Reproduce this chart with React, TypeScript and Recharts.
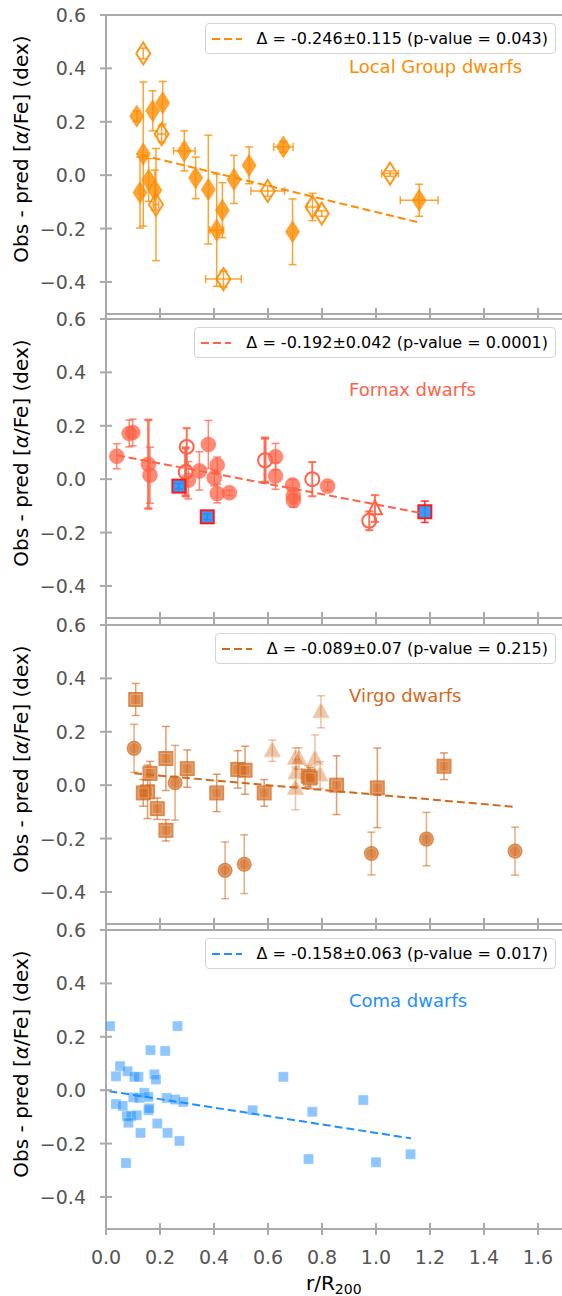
import { ScatterChart, Scatter, XAxis, YAxis, ErrorBar, ReferenceLine } from 'recharts';
import type { ReactNode } from 'react';

const FONT = '"DejaVu Sans", sans-serif';
const AXIS = '#aaaaaa';
const TICK_TEXT = '#555555';

const LG_COLOR = '#ff8c00';
const FX_COLOR = '#ff6347';
const VG_COLOR = '#d2691e';
const CM_COLOR = '#1e90ff';

const xTicks = [0, 0.2, 0.4, 0.6, 0.8, 1.0, 1.2, 1.4, 1.6];
const yTicks = [-0.4, -0.2, 0, 0.2, 0.4, 0.6];
const X_MAX = 1.689;
const Y_MIN = -0.52;
const Y_MAX = 0.6;

// Local Group: filled / open thin diamonds
const lgFilled = [
  { x: 0.114, y: 0.221, ex: 0, ey: 0.02 },
  { x: 0.173, y: 0.241, ex: 0, ey: 0.075 },
  { x: 0.21, y: 0.271, ex: 0, ey: 0.08 },
  { x: 0.138, y: 0.079, ex: 0, ey: 0.27 },
  { x: 0.126, y: -0.065, ex: 0, ey: 0.133 },
  { x: 0.158, y: -0.018, ex: 0, ey: 0.08 },
  { x: 0.181, y: -0.056, ex: 0, ey: 0.075 },
  { x: 0.29, y: 0.091, ex: 0.04, ey: 0.075 },
  { x: 0.332, y: -0.01, ex: 0, ey: 0.078 },
  { x: 0.379, y: -0.054, ex: 0, ey: 0.204 },
  { x: 0.431, y: -0.131, ex: 0, ey: 0.103 },
  { x: 0.41, y: -0.206, ex: 0.026, ey: 0.21 },
  { x: 0.474, y: -0.016, ex: 0, ey: 0.09 },
  { x: 0.53, y: 0.037, ex: 0, ey: 0.069 },
  { x: 0.657, y: 0.106, ex: 0.036, ey: 0.02 },
  { x: 0.691, y: -0.212, ex: 0, ey: 0.123 },
  { x: 1.16, y: -0.094, ex: 0.07, ey: 0.06 },
];
const lgOpen = [
  { x: 0.138, y: 0.456, ex: 0, ey: 0.02 },
  { x: 0.206, y: 0.154, ex: 0.015, ey: 0.03 },
  { x: 0.185, y: -0.11, ex: 0.01, ey: 0.21 },
  { x: 0.435, y: -0.389, ex: 0.066, ey: 0.03 },
  { x: 0.599, y: -0.059, ex: 0.062, ey: 0.02 },
  { x: 0.765, y: -0.119, ex: 0.02, ey: 0.051 },
  { x: 0.799, y: -0.144, ex: 0, ey: 0.01 },
  { x: 1.052, y: 0.006, ex: 0.031, ey: 0.01 },
];

// Fornax
const fxFilled = [
  { x: 0.04, y: 0.086, ey: 0.047 },
  { x: 0.086, y: 0.171, ey: 0.05 },
  { x: 0.099, y: 0.175, ey: 0.05 },
  { x: 0.163, y: 0.015, ey: 0.105 },
  { x: 0.305, y: -0.004, ey: 0.07 },
  { x: 0.346, y: 0.031, ey: 0.072 },
  { x: 0.379, y: 0.13, ey: 0.09 },
  { x: 0.412, y: 0.053, ey: 0.03 },
  { x: 0.401, y: 0.005, ey: 0.03 },
  { x: 0.412, y: -0.054, ey: 0.035 },
  { x: 0.457, y: -0.051, ey: 0.01 },
  { x: 0.628, y: 0.084, ey: 0.05 },
  { x: 0.628, y: 0.012, ey: 0.05 },
  { x: 0.691, y: -0.022, ey: 0.02 },
  { x: 0.694, y: -0.062, ey: 0.03 },
  { x: 0.694, y: -0.08, ey: 0.025 },
  { x: 0.821, y: -0.026, ey: 0.015 },
];
const fxFilledBold = [{ x: 0.157, y: 0.056, ey: 0.166 }];
const fxOpen = [
  { x: 0.299, y: 0.121, ey: 0.07 },
  { x: 0.764, y: 0.0, ey: 0.064 },
  { x: 0.975, y: -0.156, ey: 0.035 },
];
const fxOpenBold = [
  { x: 0.295, y: 0.027, ey: 0.09 },
  { x: 0.589, y: 0.071, ey: 0.083 },
];
const fxTriangle = [{ x: 0.996, y: -0.11, ey: 0.05 }];
const fxBlue = [
  { x: 0.27, y: -0.026, ey: 0.01 },
  { x: 0.375, y: -0.141, ey: 0.01 },
  { x: 1.181, y: -0.122, ey: 0.04 },
];

// Virgo
const vgSquares = [
  { x: 0.11, y: 0.321, ey: 0.06 },
  { x: 0.163, y: 0.044, ey: 0.045 },
  { x: 0.154, y: -0.025, ey: 0.1 },
  { x: 0.138, y: -0.029, ey: 0.05 },
  { x: 0.19, y: -0.088, ey: 0.04 },
  { x: 0.222, y: 0.1, ey: 0.12 },
  { x: 0.222, y: -0.169, ey: 0.04 },
  { x: 0.301, y: 0.062, ey: 0.07 },
  { x: 0.41, y: -0.029, ey: 0.07 },
  { x: 0.488, y: 0.059, ey: 0.07 },
  { x: 0.515, y: 0.056, ey: 0.09 },
  { x: 0.586, y: -0.029, ey: 0.05 },
  { x: 0.749, y: 0.034, ey: 0.04 },
  { x: 0.756, y: 0.027, ey: 0.04 },
  { x: 0.854, y: 0.0, ey: 0.11 },
  { x: 1.005, y: -0.01, ey: 0.149 },
  { x: 1.252, y: 0.071, ey: 0.05 },
];
const vgCircles = [
  { x: 0.104, y: 0.138, ey: 0.09 },
  { x: 0.256, y: 0.009, ey: 0.14 },
  { x: 0.441, y: -0.319, ey: 0.106 },
  { x: 0.512, y: -0.296, ey: 0.11 },
  { x: 0.983, y: -0.256, ey: 0.08 },
  { x: 1.187, y: -0.202, ey: 0.1 },
  { x: 1.515, y: -0.247, ey: 0.09 },
];
const vgTriangles = [
  { x: 0.616, y: 0.129, ey: 0.04 },
  { x: 0.702, y: 0.1, ey: 0.04 },
  { x: 0.714, y: 0.1, ey: 0.04 },
  { x: 0.704, y: 0.046, ey: 0.05 },
  { x: 0.702, y: -0.012, ey: 0.08 },
  { x: 0.796, y: 0.275, ey: 0.06 },
  { x: 0.774, y: 0.098, ey: 0.09 },
  { x: 0.793, y: 0.038, ey: 0.05 },
];

// Coma
const cmSquares = [
  { x: 0.015, y: 0.24 }, { x: 0.265, y: 0.24 }, { x: 0.165, y: 0.15 }, { x: 0.219, y: 0.147 },
  { x: 0.052, y: 0.09 }, { x: 0.037, y: 0.052 }, { x: 0.08, y: 0.071 }, { x: 0.105, y: 0.05 },
  { x: 0.12, y: 0.05 }, { x: 0.179, y: 0.059 }, { x: 0.185, y: 0.04 }, { x: 0.657, y: 0.05 },
  { x: 0.953, y: -0.037 }, { x: 0.142, y: -0.01 }, { x: 0.101, y: -0.027 }, { x: 0.123, y: -0.029 },
  { x: 0.157, y: -0.025 }, { x: 0.225, y: -0.029 }, { x: 0.256, y: -0.035 }, { x: 0.286, y: -0.044 },
  { x: 0.037, y: -0.052 }, { x: 0.062, y: -0.059 }, { x: 0.157, y: -0.075 }, { x: 0.16, y: -0.068 },
  { x: 0.543, y: -0.075 }, { x: 0.764, y: -0.081 }, { x: 0.077, y: -0.097 }, { x: 0.093, y: -0.097 },
  { x: 0.114, y: -0.094 }, { x: 0.083, y: -0.122 }, { x: 0.19, y: -0.125 }, { x: 0.128, y: -0.16 },
  { x: 0.228, y: -0.16 }, { x: 0.272, y: -0.19 }, { x: 0.074, y: -0.273 }, { x: 0.75, y: -0.258 },
  { x: 1.0, y: -0.27 }, { x: 1.128, y: -0.24 },
];

// straight-line fits: slope (Δ), intercept, x range
const lgFit = { delta: -0.246, err: 0.115, p: 0.043, intercept: 0.108, xs: [0.13, 1.16] };
const fxFit = { delta: -0.192, err: 0.042, p: 0.0001, intercept: 0.0975, xs: [0.04, 1.16] };
const vgFit = { delta: -0.089, err: 0.07, p: 0.215, intercept: 0.0535, xs: [0.104, 1.515] };
const cmFit = { delta: -0.158, err: 0.063, p: 0.017, intercept: -0.002, xs: [0.012, 1.13] };

type Fit = typeof lgFit;
const fitPoints = (f: Fit) => f.xs.map((x) => ({ x, y: f.intercept + f.delta * x }));
const fitText = (f: Fit) => `Δ = ${f.delta}±${f.err} (p-value = ${f.p})`;

// ---- marker shapes ----
const Nothing = () => <g />;

const diamond = (cx: number, cy: number) =>
  `M${cx},${cy - 11}L${cx + 7},${cy}L${cx},${cy + 11}L${cx - 7},${cy}Z`;
const triangle = (cx: number, cy: number, w: number, h: number) =>
  `M${cx},${cy - h * 0.6}L${cx + w / 2},${cy + h * 0.4}L${cx - w / 2},${cy + h * 0.4}Z`;

const LgFilledShape = ({ cx, cy }: any) => (
  <path d={diamond(cx, cy)} fill={LG_COLOR} fillOpacity={0.8} stroke={LG_COLOR} strokeOpacity={0.6} strokeWidth={1} />
);
const LgOpenShape = ({ cx, cy }: any) => (
  <path d={diamond(cx, cy)} fill="none" stroke={LG_COLOR} strokeOpacity={0.9} strokeWidth={2} />
);
const FxFilledShape = ({ cx, cy }: any) => (
  <circle cx={cx} cy={cy} r={7.5} fill={FX_COLOR} fillOpacity={0.75} stroke={FX_COLOR} strokeOpacity={0.4} strokeWidth={1} />
);
const FxOpenShape = ({ cx, cy }: any) => (
  <circle cx={cx} cy={cy} r={7} fill="none" stroke={FX_COLOR} strokeWidth={2} />
);
const FxTriangleShape = ({ cx, cy }: any) => (
  <path d={triangle(cx, cy, 14, 14)} fill="none" stroke={FX_COLOR} strokeWidth={2} />
);
const FxBlueShape = ({ cx, cy }: any) => (
  <rect x={cx - 6.5} y={cy - 6.5} width={13} height={13} fill={CM_COLOR} fillOpacity={0.9} stroke="#ff1a1a" strokeWidth={2} />
);
const VgSquareShape = ({ cx, cy }: any) => (
  <g>
    <rect x={cx - 7.5} y={cy - 7.5} width={15} height={15} fill={VG_COLOR} fillOpacity={0.78} />
    <rect x={cx - 5} y={cy - 5} width={10} height={10} fill="none" stroke="#f0b487" strokeOpacity={0.7} strokeWidth={1} />
  </g>
);
const VgCircleShape = ({ cx, cy }: any) => (
  <g>
    <circle cx={cx} cy={cy} r={7.5} fill={VG_COLOR} fillOpacity={0.78} />
    <circle cx={cx} cy={cy} r={5.5} fill="none" stroke="#f0b487" strokeOpacity={0.6} strokeWidth={1} />
  </g>
);
const VgTriangleShape = ({ cx, cy }: any) => (
  <path d={triangle(cx, cy, 16, 15)} fill={VG_COLOR} fillOpacity={0.38} stroke="#f3cdb0" strokeWidth={1} />
);
const CmSquareShape = ({ cx, cy }: any) => (
  <rect x={cx - 5} y={cy - 5} width={10} height={10} fill={CM_COLOR} fillOpacity={0.5} stroke="#ffffff" strokeOpacity={0.25} strokeWidth={1} />
);

// ---- axes pieces ----
const fmt = (v: number) => (v < 0 ? '\u2212' + Math.abs(v).toFixed(1) : v.toFixed(1));

const XTick = ({ x, y, payload, showLabel }: any) => (
  <g>
    <line x1={x} x2={x} y1={y - 6} y2={y + 6} stroke={AXIS} strokeWidth={2} />
    {showLabel && (
      <text x={x} y={y + 35} textAnchor="middle" fontSize={19} fill={TICK_TEXT} fontFamily={FONT}>
        {fmt(payload.value)}
      </text>
    )}
  </g>
);

const YTick = ({ x, y, payload }: any) => (
  <g>
    <line x1={x - 6} x2={x + 6} y1={y} y2={y} stroke={AXIS} strokeWidth={2} />
    <text x={x - 20} y={y + 7} textAnchor="end" fontSize={19} fill={TICK_TEXT} fontFamily={FONT}>
      {fmt(payload.value)}
    </text>
  </g>
);

const PAD_TOP = 12;
const PLOT_LEFT = 106;
const PLOT_H = 299;

const YTitle = () => (
  <text
    transform={`translate(28, ${PAD_TOP + 134}) rotate(-90)`}
    textAnchor="middle"
    fontSize={20}
    fill="#000"
    fontFamily={FONT}
  >
    Obs - pred [<tspan fontStyle="italic">α</tspan>/Fe] (dex)
  </text>
);

const XTitle = () => (
  <text x={306} y={PAD_TOP + PLOT_H + 61} fontSize={20} fill="#000" fontFamily={FONT}>
    r/R
    <tspan fontSize={14} dy={4}>
      200
    </tspan>
  </text>
);

interface PanelProps {
  top: number;
  bottom?: boolean;
  fit: Fit;
  color: string;
  title: string;
  titleY: number;
  children: ReactNode;
}

function Panel({ top, bottom, fit, color, title, titleY, children }: PanelProps) {
  const xAxisH = bottom ? 67 : 20;
  const height = PAD_TOP + PLOT_H + xAxisH;
  return (
    <div style={{ position: 'absolute', left: 0, top: top - PAD_TOP, width: 562, height }}>
      <ScatterChart width={562} height={height} margin={{ top: PAD_TOP, right: 0, bottom: 0, left: 0 }}>
        <XAxis
          type="number"
          dataKey="x"
          domain={[0, X_MAX]}
          ticks={xTicks}
          interval={0}
          allowDataOverflow
          height={xAxisH}
          axisLine={{ stroke: AXIS, strokeWidth: 2 }}
          tickLine={false}
          tickSize={0}
          tickMargin={0}
          tick={(p: any) => <XTick {...p} showLabel={!!bottom} />}
          label={bottom ? <XTitle /> : undefined}
        />
        <YAxis
          type="number"
          dataKey="y"
          domain={[Y_MIN, Y_MAX]}
          ticks={yTicks}
          interval={0}
          allowDataOverflow
          width={PLOT_LEFT}
          axisLine={{ stroke: AXIS, strokeWidth: 2 }}
          tickLine={false}
          tickSize={0}
          tickMargin={0}
          tick={(p: any) => <YTick {...p} />}
          label={<YTitle />}
        />
        <ReferenceLine y={Y_MAX} stroke={AXIS} strokeWidth={2} />
        {children}
        <Scatter
          data={fitPoints(fit)}
          shape={Nothing}
          line={{ stroke: color, strokeWidth: 2, strokeDasharray: '8 4' }}
          isAnimationActive={false}
        />
      </ScatterChart>
      <div
        style={{
          position: 'absolute',
          right: 6,
          top: PAD_TOP + 8,
          height: 31,
          boxSizing: 'border-box',
          border: '1.5px solid #d4d4d4',
          borderRadius: 4,
          background: 'rgba(255,255,255,0.85)',
          display: 'flex',
          alignItems: 'center',
          padding: '0 7px 0 6px',
          fontFamily: FONT,
          fontSize: 16,
          color: '#000',
          whiteSpace: 'nowrap',
        }}
      >
        <svg width={30} height={4} style={{ marginRight: 15 }}>
          <line x1={0} x2={30} y1={2} y2={2} stroke={color} strokeWidth={2} strokeDasharray="8 4" />
        </svg>
        <span>{fitText(fit)}</span>
      </div>
      <div
        style={{
          position: 'absolute',
          left: 349,
          top: PAD_TOP + titleY - 11,
          fontFamily: FONT,
          fontSize: 18,
          lineHeight: '22px',
          color,
          whiteSpace: 'nowrap',
        }}
      >
        {title}
      </div>
    </div>
  );
}

const errY = (color: string, opacity: number, w = 1.5) => (
  <ErrorBar dataKey="ey" direction="y" width={4} stroke={color} strokeOpacity={opacity} strokeWidth={w} />
);
const errX = (color: string, opacity: number) => (
  <ErrorBar dataKey="ex" direction="x" width={4} stroke={color} strokeOpacity={opacity} strokeWidth={1.5} />
);

export default function App() {
  return (
    <div style={{ position: 'absolute', left: 0, top: 0, width: 562, height: 1296, background: '#fff' }}>
      <Panel top={15} fit={lgFit} color={LG_COLOR} title="Local Group dwarfs" titleY={52}>
        <Scatter data={lgFilled} shape={LgFilledShape} isAnimationActive={false}>
          {errY(LG_COLOR, 0.8)}
          {errX(LG_COLOR, 0.8)}
        </Scatter>
        <Scatter data={lgOpen} shape={LgOpenShape} isAnimationActive={false}>
          {errY(LG_COLOR, 0.8)}
          {errX(LG_COLOR, 0.8)}
        </Scatter>
      </Panel>

      <Panel top={319} fit={fxFit} color={FX_COLOR} title="Fornax dwarfs" titleY={71}>
        <Scatter data={fxFilled} shape={FxFilledShape} isAnimationActive={false}>
          {errY(FX_COLOR, 0.75)}
        </Scatter>
        <Scatter data={fxFilledBold} shape={FxFilledShape} isAnimationActive={false}>
          {errY(FX_COLOR, 0.9, 2.5)}
        </Scatter>
        <Scatter data={fxOpen} shape={FxOpenShape} isAnimationActive={false}>
          {errY(FX_COLOR, 0.9, 2)}
        </Scatter>
        <Scatter data={fxOpenBold} shape={FxOpenShape} isAnimationActive={false}>
          {errY(FX_COLOR, 0.95, 3)}
        </Scatter>
        <Scatter data={fxTriangle} shape={FxTriangleShape} isAnimationActive={false}>
          {errY(FX_COLOR, 0.9, 2)}
        </Scatter>
        <Scatter data={fxBlue} shape={FxBlueShape} isAnimationActive={false}>
          {errY('#ff1a1a', 0.9)}
        </Scatter>
      </Panel>

      <Panel top={625} fit={vgFit} color={VG_COLOR} title="Virgo dwarfs" titleY={71}>
        <Scatter data={vgTriangles} shape={VgTriangleShape} isAnimationActive={false}>
          {errY(VG_COLOR, 0.4)}
        </Scatter>
        <Scatter data={vgSquares} shape={VgSquareShape} isAnimationActive={false}>
          {errY(VG_COLOR, 0.65)}
        </Scatter>
        <Scatter data={vgCircles} shape={VgCircleShape} isAnimationActive={false}>
          {errY(VG_COLOR, 0.55)}
        </Scatter>
      </Panel>

      <Panel top={930} bottom fit={cmFit} color={CM_COLOR} title="Coma dwarfs" titleY={71}>
        <Scatter data={cmSquares} shape={CmSquareShape} isAnimationActive={false} />
      </Panel>
    </div>
  );
}
